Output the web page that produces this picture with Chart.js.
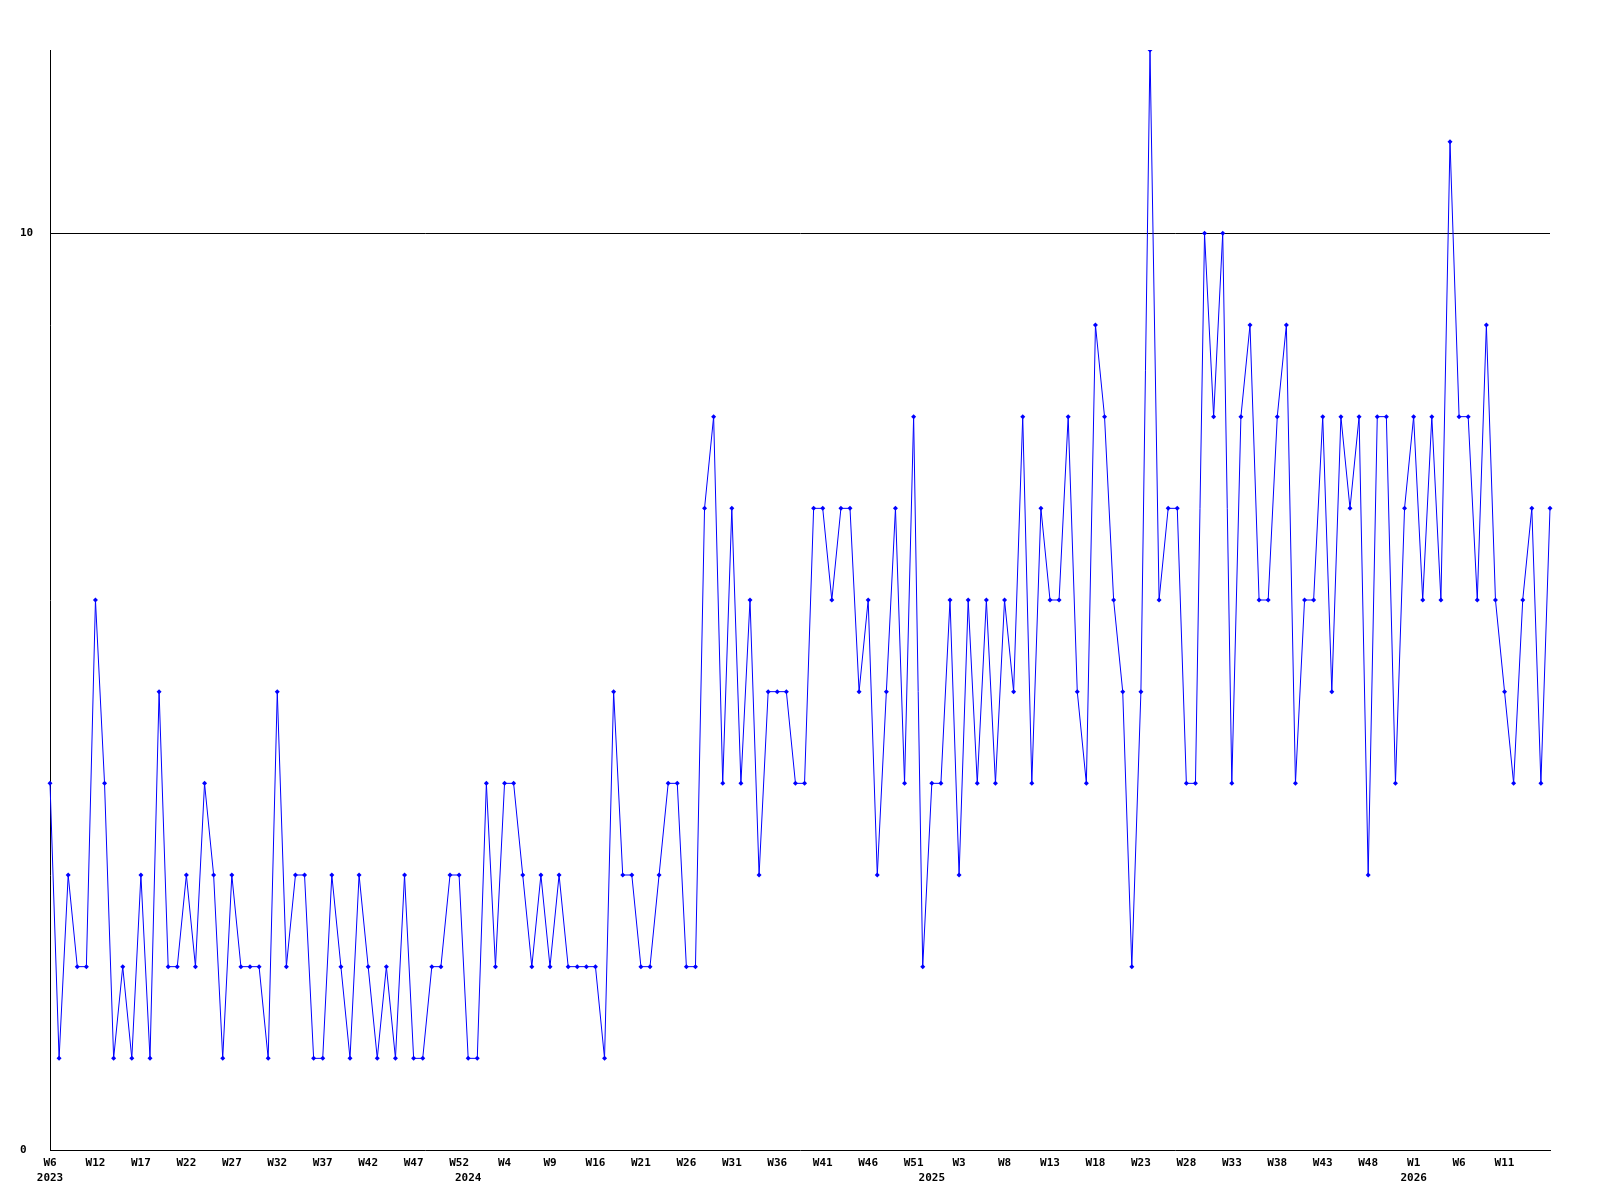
<!DOCTYPE html>
<html>
<head>
<meta charset="utf-8">
<title>Weekly count</title>
<script src="https://cdn.jsdelivr.net/npm/chart.js@4/dist/chart.umd.min.js"></script>
<style>
  html, body { margin: 0; padding: 0; background: #fff; }
  canvas { display: block; }
</style>
</head>
<body>
<canvas id="weeklyChart" width="1600" height="1200"></canvas>
<script>
// Weekly values, oldest first (starts at 2023 W6)
const weeklyValues = [
  4, 1, 3, 2, 2, 6, 4, 1, 2, 1,
  3, 1, 5, 2, 2, 3, 2, 4, 3, 1,
  3, 2, 2, 2, 1, 5, 2, 3, 3, 1,
  1, 3, 2, 1, 3, 2, 1, 2, 1, 3,
  1, 1, 2, 2, 3, 3, 1, 1, 4, 2,
  4, 4, 3, 2, 3, 2, 3, 2, 2, 2,
  2, 1, 5, 3, 3, 2, 2, 3, 4, 4,
  2, 2, 7, 8, 4, 7, 4, 6, 3, 5,
  5, 5, 4, 4, 7, 7, 6, 7, 7, 5,
  6, 3, 5, 7, 4, 8, 2, 4, 4, 6,
  3, 6, 4, 6, 4, 6, 5, 8, 4, 7,
  6, 6, 8, 5, 4, 9, 8, 6, 5, 2,
  5, 12, 6, 7, 7, 4, 4, 10, 8, 10,
  4, 8, 9, 6, 6, 8, 9, 4, 6, 6,
  8, 5, 8, 7, 8, 3, 8, 8, 4, 7,
  8, 6, 8, 6, 11, 8, 8, 6, 9, 6,
  5, 4, 6, 7, 4, 7
];

// Week labels, one under every fifth point
const weekTickStep = 5;
const weekTicks = [
  'W6', 'W12', 'W17', 'W22', 'W27', 'W32', 'W37', 'W42', 'W47', 'W52',
  'W4', 'W9', 'W16', 'W21', 'W26', 'W31', 'W36', 'W41', 'W46', 'W51',
  'W3', 'W8', 'W13', 'W18', 'W23', 'W28', 'W33', 'W38', 'W43', 'W48',
  'W1', 'W6', 'W11'
];

// Year labels go under the first point of each year
const yearIndexes = [0, 46, 97, 150];
const yearNames = ['2023', '2024', '2025', '2026'];

// Only these values get a label on the value axis
const yTickValues = [0, 10];
const yMax = 12;

const axisFont = {
  family: '"DejaVu Sans Mono", "Liberation Mono", monospace',
  size: 11,
  weight: 'bold',
  lineHeight: '15px'
};

// Build one label per point: week line, then optional year line
const labels = weeklyValues.map((v, i) => {
  const week = i % weekTickStep === 0 ? (weekTicks[i / weekTickStep] || '') : '';
  const y = yearIndexes.indexOf(i);
  return y >= 0 ? [week, yearNames[y]] : week;
});

const ctx = document.getElementById('weeklyChart').getContext('2d');

new Chart(ctx, {
  type: 'line',
  data: {
    labels: labels,
    datasets: [{
      data: weeklyValues,
      borderColor: '#0000ff',
      backgroundColor: '#0000ff',
      borderWidth: 1,
      tension: 0,
      fill: false,
      pointStyle: 'rectRot',
      pointRadius: 2.5,
      pointBorderWidth: 0,
      pointBackgroundColor: '#0000ff'
    }]
  },
  options: {
    responsive: false,
    animation: false,
    layout: {
      padding: { top: 50, right: 50, bottom: 0, left: 20 }
    },
    plugins: {
      legend: { display: false },
      tooltip: { enabled: false },
      title: { display: false }
    },
    scales: {
      x: {
        type: 'category',
        offset: false,
        grid: { display: false },
        border: { display: true, color: '#000', width: 1 },
        ticks: {
          autoSkip: false,
          maxRotation: 0,
          minRotation: 0,
          padding: -2,
          color: '#000',
          font: axisFont
        },
        afterFit(scale) {
          scale.height = 50;
        }
      },
      y: {
        min: 0,
        max: yMax,
        grid: {
          drawTicks: false,
          color: c => (c.tick && c.tick.value === 10 ? '#000' : 'rgba(0,0,0,0)'),
          lineWidth: 1
        },
        border: { display: true, color: '#000', width: 1 },
        ticks: {
          crossAlign: 'far',
          padding: 0,
          color: '#000',
          font: axisFont
        },
        afterBuildTicks(scale) {
          scale.ticks = yTickValues.map(v => ({ value: v }));
        },
        afterFit(scale) {
          scale.width = 30;
        }
      }
    }
  }
});
</script>
</body>
</html>
